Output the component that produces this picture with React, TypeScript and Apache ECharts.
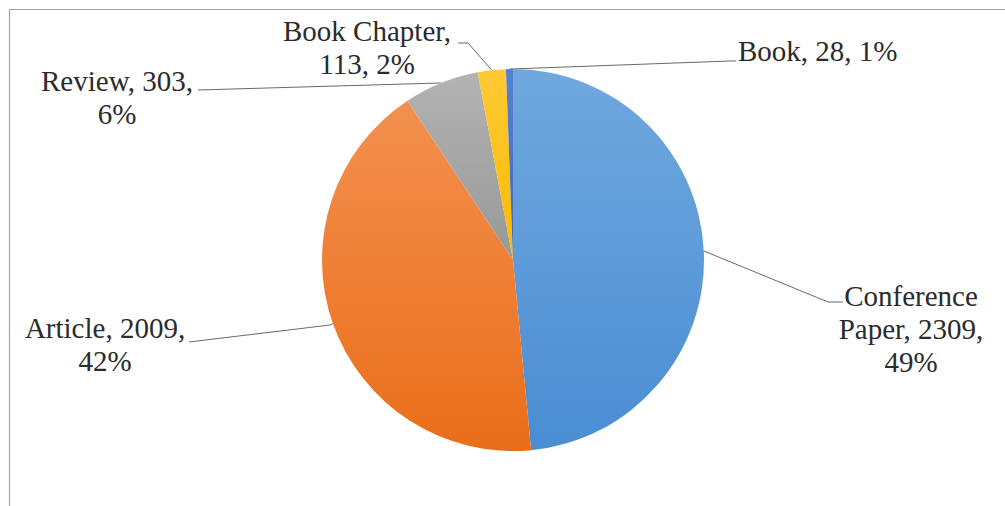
import React, { useEffect, useRef } from "react";
import * as echarts from "echarts";

const categories = ["Conference Paper", "Article", "Review", "Book Chapter", "Book"];
const values = [2309, 2009, 303, 113, 28];
// token indices after which a label wraps to a new line
const labelBreaks = [[0, 2], [1], [1], [1], []];

const colorTop = ["#70a8de", "#f3904f", "#b3b3b3", "#ffca35", "#5582cf"];
const colorBottom = ["#4a8dd3", "#ea6e1a", "#989898", "#fdb900", "#3e68b8"];

// label layout: [text x, text y, align, bend point x, bend y, end x, end y]
const labelLayoutCfg: Array<[number, number, string, number, number, number, number]> = [
  [911, 329, "center", 828, 302, 843, 302],
  [105, 344, "center", 330, 325, 189, 342],
  [117, 97, "center", 440, 83, 198, 90],
  [367, 47, "center", 468, 43, 458, 43],
  [738, 51, "left", 730, 61, 736, 61],
];

export default function App() {
  const ref = useRef<HTMLDivElement>(null);
  useEffect(() => {
    if (!ref.current) return;
    const chart = echarts.init(ref.current, null, { renderer: "svg" });
    const data = categories.map((name, i) => ({
      name,
      value: values[i],
      itemStyle: {
        color: new echarts.graphic.LinearGradient(0, 0, 0, 1, [
          { offset: 0, color: colorTop[i] },
          { offset: 1, color: colorBottom[i] },
        ]),
      },
    }));
    chart.setOption({
      animation: false,
      backgroundColor: "#ffffff",
      graphic: [
        {
          type: "rect",
          shape: { x: 9.5, y: 9.5, width: 1200, height: 700 },
          style: { fill: "none", stroke: "#a3a3a3", lineWidth: 1.2 },
          silent: true,
        },
      ],
      series: [
        {
          type: "pie",
          center: [513, 260],
          radius: 191,
          startAngle: 90,
          clockwise: true,
          percentPrecision: 0,
          avoidLabelOverlap: false,
          itemStyle: { borderWidth: 0 },
          label: {
            show: true,
            position: "outside",
            fontFamily: "Liberation Serif",
            fontSize: 29,
            lineHeight: 33,
            color: "#2b2b2b",
            formatter: (p: any) => {
              const tokens = `${p.name}, ${p.value}, ${p.percent}%`.split(" ");
              const br = labelBreaks[p.dataIndex];
              let s = "";
              tokens.forEach((t, k) => {
                s += t;
                if (k < tokens.length - 1) s += br.includes(k) ? "\n" : " ";
              });
              return s;
            },
          },
          labelLine: {
            show: true,
            length: 20,
            length2: 20,
            lineStyle: { color: "#6a6a6a", width: 1 },
          },
          labelLayout: (params: any) => {
            const c = labelLayoutCfg[params.dataIndex];
            const start = params.labelLinePoints ? params.labelLinePoints[0] : [c[3], c[4]];
            return {
              x: c[0],
              y: c[1],
              align: c[2],
              verticalAlign: "middle",
              labelLinePoints: [start, [c[3], c[4]], [c[5], c[6]]],
            };
          },
          emphasis: { disabled: true },
          data,
        },
      ],
    });
    return () => chart.dispose();
  }, []);
  return (
    <div
      ref={ref}
      style={{ position: "absolute", left: 0, top: 0, width: 1005, height: 506 }}
    />
  );
}
